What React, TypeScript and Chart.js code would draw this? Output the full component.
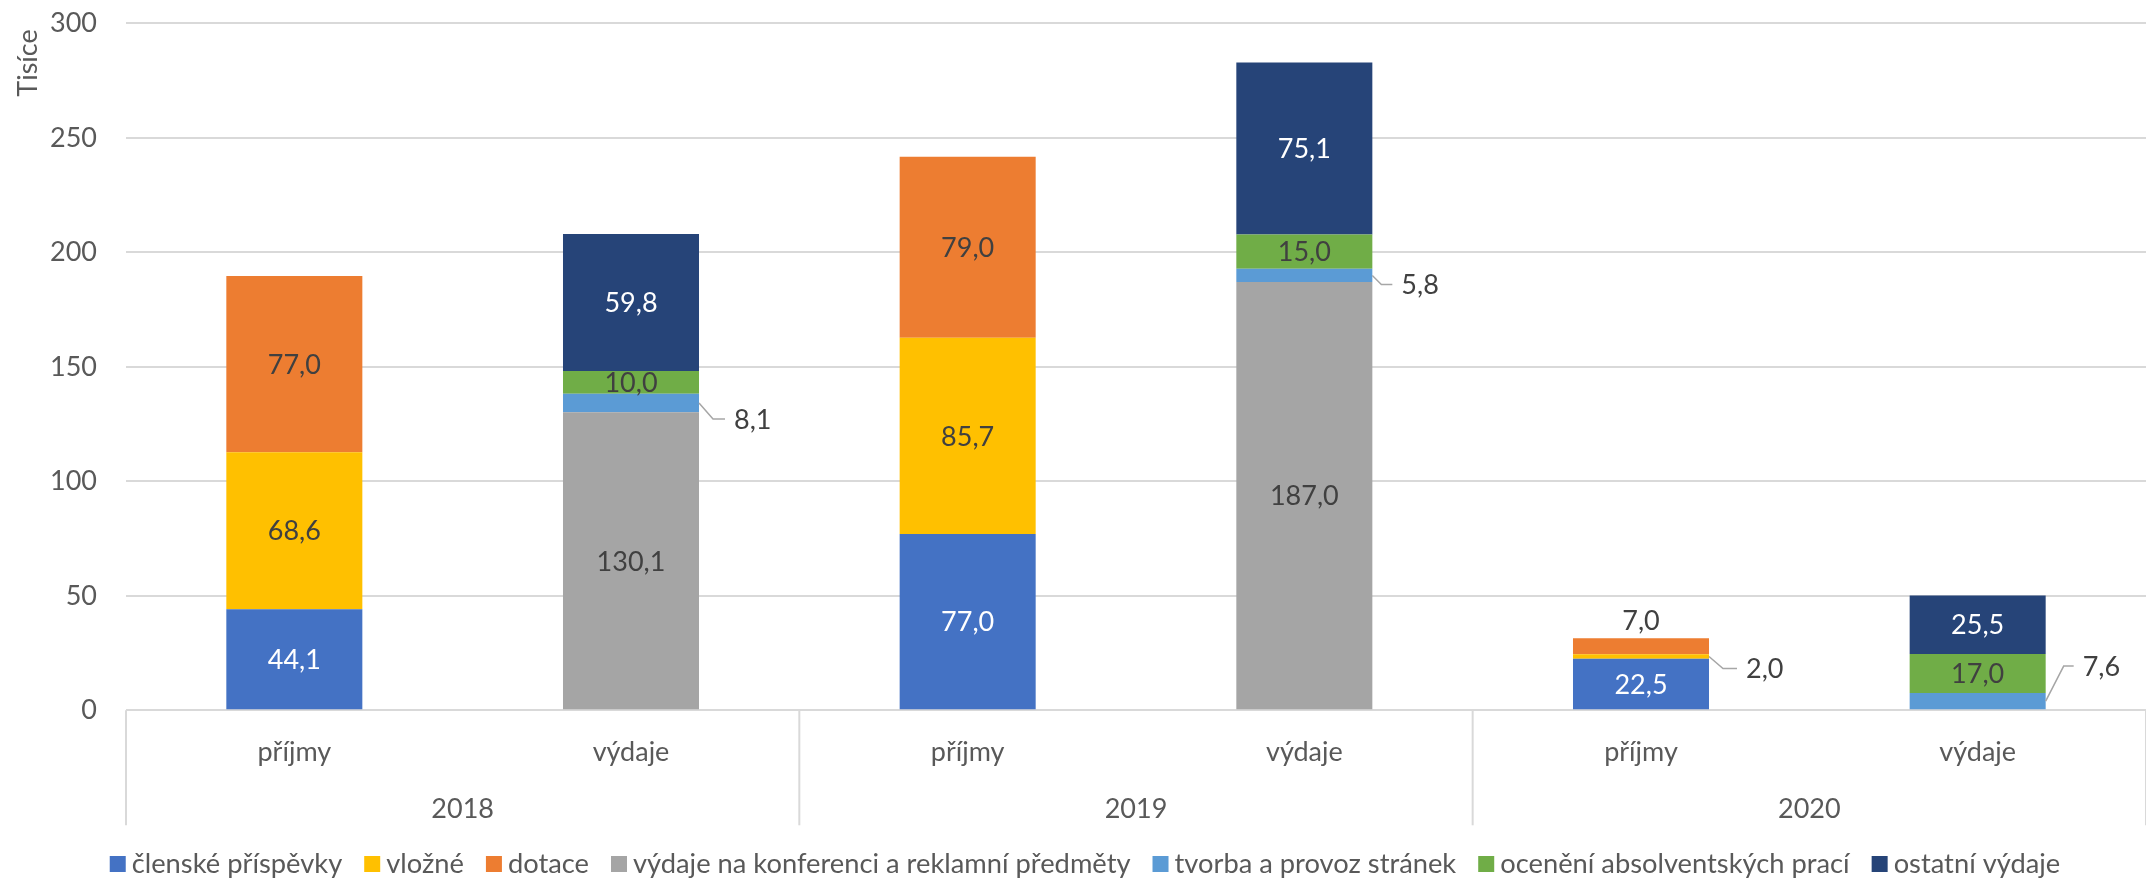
import React, { useEffect, useRef } from 'react';
import { Chart, registerables } from 'chart.js';

Chart.register(...registerables);

// ---- data ----
const categories = ['příjmy', 'výdaje', 'příjmy', 'výdaje', 'příjmy', 'výdaje'];
const years = ['2018', '2019', '2020'];
const yTickMin = 0;
const yTickMax = 300;
const yTickStep = 50;
const axisTitle = 'Tisíce';

const seriesNames = [
  'členské příspěvky',
  'vložné',
  'dotace',
  'výdaje na konferenci a reklamní předměty',
  'tvorba a provoz stránek',
  'ocenění absolventských prací',
  'ostatní výdaje',
];
const clenske = [44.1, null, 77.0, null, 22.5, null];
const vlozne = [68.6, null, 85.7, null, 2.0, null];
const dotace = [77.0, null, 79.0, null, 7.0, null];
const konference = [null, 130.1, null, 187.0, null, null];
const tvorba = [null, 8.1, null, 5.8, null, 7.6];
const oceneni = [null, 10.0, null, 15.0, null, 17.0];
const ostatni = [null, 59.8, null, 75.1, null, 25.5];
const seriesValues = [clenske, vlozne, dotace, konference, tvorba, oceneni, ostatni];
const seriesColors = ['#4472C4', '#FFC000', '#ED7D31', '#A5A5A5', '#5B9BD5', '#70AD47', '#264478'];

// ---- styles ----
const FONT = 'Lato, "Open Sans", sans-serif';
const FS = 27;
const LEGEND_FS = 27.3;
const TEXT = '#595959';
const LABEL_DARK = '#404040';
const GRID = '#D9D9D9';
const WHITE_LABEL_SERIES = [0, 6];

// label callouts (key: datasetIndex:dataIndex)
const CALLOUTS: Record<string, { type: 'leader' | 'above'; dx?: number; dy?: number; h?: number; off?: number }> = {
  '4:1': { type: 'leader', dx: 14, dy: 16, h: 12 },
  '4:3': { type: 'leader', dx: 9, dy: 9, h: 11 },
  '1:4': { type: 'leader', dx: 14, dy: 12, h: 14 },
  '4:5': { type: 'leader', dx: 18, dy: -35, h: 10 },
  '2:4': { type: 'above', off: 17 },
};

const fmt = (v: number) => v.toFixed(1).replace('.', ',');

const overlayPlugin = {
  id: 'overlay',
  afterDraw(chart: any) {
    const ctx: CanvasRenderingContext2D = chart.ctx;
    const xs = chart.scales.x;
    const area = chart.chartArea;
    ctx.save();

    // data labels
    ctx.font = `${FS}px ${FONT}`;
    ctx.textBaseline = 'middle';
    chart.data.datasets.forEach((ds: any, di: number) => {
      const meta = chart.getDatasetMeta(di);
      meta.data.forEach((el: any, j: number) => {
        const v = ds.data[j];
        if (v == null) return;
        const text = fmt(v);
        const cx = el.x;
        const top = Math.min(el.y, el.base);
        const bottom = Math.max(el.y, el.base);
        const cy = (top + bottom) / 2;
        const right = el.x + el.width / 2;
        const c = CALLOUTS[`${di}:${j}`];
        if (c && c.type === 'above') {
          ctx.fillStyle = LABEL_DARK;
          ctx.textAlign = 'center';
          ctx.fillText(text, cx, top - (c.off || 16));
        } else if (c) {
          const x1 = right + (c.dx || 0);
          const y1 = cy + (c.dy || 0);
          const x2 = x1 + (c.h || 10);
          ctx.strokeStyle = '#A6A6A6';
          ctx.lineWidth = 1.5;
          ctx.beginPath();
          ctx.moveTo(right, cy);
          ctx.lineTo(x1, y1);
          ctx.lineTo(x2, y1);
          ctx.stroke();
          ctx.fillStyle = LABEL_DARK;
          ctx.textAlign = 'left';
          ctx.fillText(text, x2 + 9, y1 + 1);
        } else {
          ctx.fillStyle = WHITE_LABEL_SERIES.includes(di) ? '#FFFFFF' : LABEL_DARK;
          ctx.textAlign = 'center';
          ctx.fillText(text, cx, cy + 1);
        }
      });
    });

    // category + year labels, separators
    ctx.fillStyle = TEXT;
    ctx.textAlign = 'center';
    const px = categories.map((_, i) => xs.getPixelForValue(i));
    categories.forEach((c, i) => ctx.fillText(c, px[i], area.bottom + 42));
    years.forEach((y, g) => {
      const gx = (px[g * 2] + px[g * 2 + 1]) / 2;
      ctx.fillText(y, gx, area.bottom + 99);
    });
    ctx.strokeStyle = GRID;
    ctx.lineWidth = 2;
    for (let g = 0; g <= years.length; g++) {
      let sx: number;
      if (g === 0) sx = area.left;
      else if (g === years.length) sx = area.right;
      else sx = (px[g * 2 - 1] + px[g * 2]) / 2;
      ctx.beginPath();
      ctx.moveTo(sx, area.bottom);
      ctx.lineTo(sx, area.bottom + 115);
      ctx.stroke();
    }

    // axis title
    ctx.save();
    ctx.translate(28, 63);
    ctx.rotate(-Math.PI / 2);
    ctx.textAlign = 'center';
    ctx.fillStyle = TEXT;
    ctx.fillText(axisTitle, 0, 0);
    ctx.restore();

    // legend
    ctx.font = `${LEGEND_FS}px ${FONT}`;
    const box = 16, gapBox = 6, gapItem = 22;
    const widths = seriesNames.map((n) => ctx.measureText(n).width);
    const total = widths.reduce((a, w) => a + box + gapBox + w, 0) + gapItem * (seriesNames.length - 1);
    let lx = (chart.width - total) / 2 + 12;
    const ly = 864;
    seriesNames.forEach((n, i) => {
      ctx.fillStyle = seriesColors[i];
      ctx.fillRect(lx, ly - box / 2, box, box);
      ctx.fillStyle = TEXT;
      ctx.textAlign = 'left';
      ctx.fillText(n, lx + box + gapBox, ly);
      lx += box + gapBox + widths[i] + gapItem;
    });

    ctx.restore();
  },
};

export default function App() {
  const ref = useRef<HTMLCanvasElement>(null);
  useEffect(() => {
    document.body.style.margin = '0';
    document.body.style.overflow = 'hidden';
    const chart = new Chart(ref.current!, {
      type: 'bar',
      data: {
        labels: categories,
        datasets: seriesNames.map((name, i) => ({
          label: name,
          data: seriesValues[i],
          backgroundColor: seriesColors[i],
          borderWidth: 0,
          barPercentage: 0.404,
          categoryPercentage: 1,
        })),
      },
      options: {
        animation: false,
        responsive: true,
        maintainAspectRatio: false,
        layout: { padding: { top: 23.3, left: 0, right: 0, bottom: 0 } },
        plugins: {
          legend: { display: false },
          tooltip: { enabled: false },
          title: { display: false },
        },
        scales: {
          x: {
            stacked: true,
            grid: { display: false },
            border: { display: false },
            ticks: { display: false },
            afterFit: (s: any) => {
              s.height = 879 - 710.3;
            },
          },
          y: {
            stacked: true,
            min: yTickMin,
            max: yTickMax,
            ticks: {
              stepSize: yTickStep,
              color: TEXT,
              padding: 0,
              font: { family: FONT, size: FS },
            },
            grid: { color: GRID, lineWidth: 2, drawTicks: true, tickLength: 29, tickColor: 'rgba(0,0,0,0)' },
            border: { display: false },
            afterFit: (s: any) => {
              s.width = 126;
            },
          },
        },
      },
      plugins: [overlayPlugin],
    });
    return () => chart.destroy();
  }, []);
  return (
    <div style={{ width: 2146, height: 879, position: 'relative' }}>
      <canvas ref={ref} />
    </div>
  );
}
